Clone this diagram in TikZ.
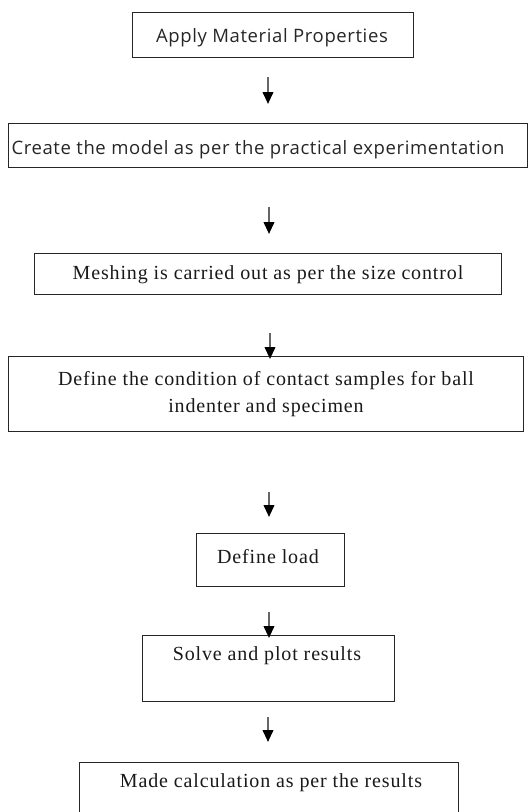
\documentclass[tikz,border=0pt]{standalone}
\usepackage{fontspec}
\setmainfont{Liberation Serif}[LetterSpace=4.3]
\newfontfamily\uisans{Open Sans}[LetterSpace=3.3]
\usetikzlibrary{arrows.meta}
\tikzset{
  box/.style={draw=black!85, line width=1.3pt, rectangle, inner sep=0pt},
  sanstxt/.style={font=\uisans\fontsize{18.5}{22}\selectfont, inner sep=0pt, text=black!85},
  sertxt/.style={font=\fontsize{20}{27}\selectfont, inner sep=0pt, align=center, text=black!90},
  flow/.style={draw=black!60, line width=2.2pt, -{Triangle[length=12pt,width=10.5pt,color=black,fill=black]}}
}
\begin{document}
\begin{tikzpicture}[x=1pt,y=-1pt]
\useasboundingbox (0,0) rectangle (531,812);
\begin{scope}
\clip (0,0) rectangle (531,812);
% boxes
\node[box, minimum width=281pt, minimum height=45pt, anchor=north west] (b1) at (132,12) {};
\node[box, minimum width=519pt, minimum height=44pt, anchor=north west] (b2) at (8,123) {};
\node[box, minimum width=467pt, minimum height=41pt, anchor=north west] (b3) at (34,253) {};
\node[box, minimum width=515pt, minimum height=75pt, anchor=north west] (b4) at (8,356) {};
\node[box, minimum width=148pt, minimum height=53pt, anchor=north west] (b5) at (196,533) {};
\node[box, minimum width=252pt, minimum height=66pt, anchor=north west] (b6) at (142,635) {};
\node[box, minimum width=379pt, minimum height=70pt, anchor=north west] (b7) at (79,762) {};
% texts
\node[sanstxt] (t1) at (272,38) {Apply Material Properties};
\node[sanstxt] (t2) at (258,150) {Create the model as per the practical experimentation};
\node[sertxt] (t3) at (268,275) {Meshing is carried out as per the size control};
\node[sertxt] (t4) at (266,394) {Define the condition of contact samples for ball\\indenter and specimen};
\node[sertxt] (t5) at (268,557) {Define load};
\node[sertxt] (t6) at (267,656) {Solve and plot results};
\node[sertxt] (t7) at (271,783) {Made calculation as per the results};
% arrows
\coordinate (a1s) at (268,77);  \coordinate (a1e) at (268,104);
\coordinate (a2s) at (269,207); \coordinate (a2e) at (269,234);
\coordinate (a3s) at (270,333); \coordinate (a3e) at (270,359);
\coordinate (a4s) at (269,492); \coordinate (a4e) at (269,517);
\coordinate (a5s) at (269,612); \coordinate (a5e) at (269,638);
\coordinate (a6s) at (268,717); \coordinate (a6e) at (268,742);
\draw[flow] (a1s) -- (a1e);
\draw[flow] (a2s) -- (a2e);
\draw[flow] (a3s) -- (a3e);
\draw[flow] (a4s) -- (a4e);
\draw[flow] (a5s) -- (a5e);
\draw[flow] (a6s) -- (a6e);
\end{scope}
\end{tikzpicture}
\end{document}
